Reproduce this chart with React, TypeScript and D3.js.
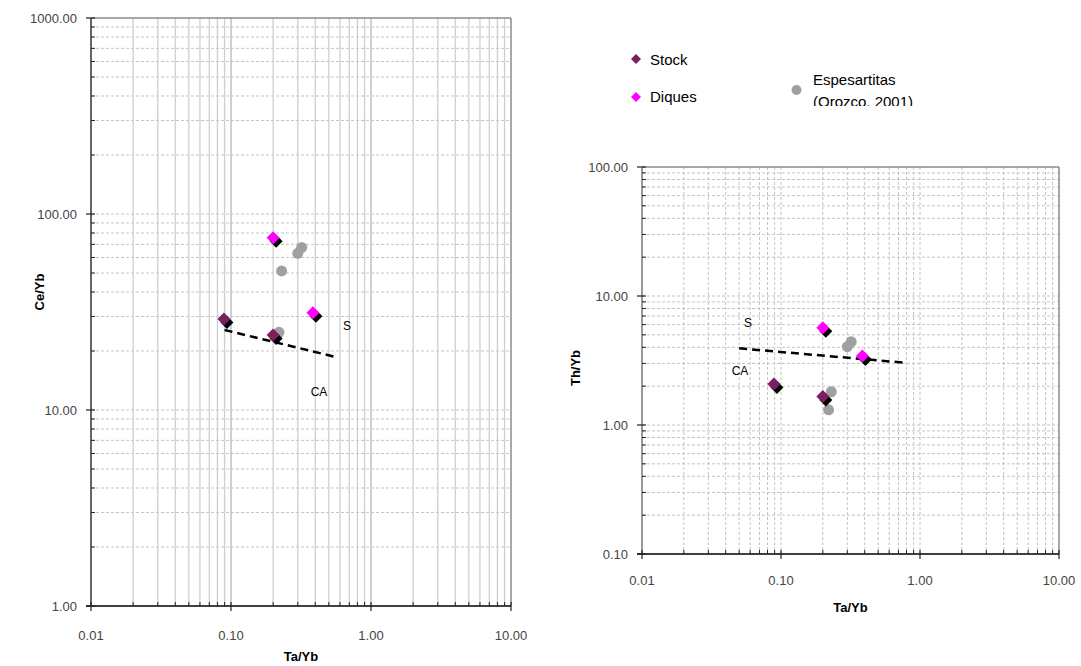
import React from 'react';
import * as d3 from 'd3';

const stockTaYb = [0.089, 0.2];
const stockCeYb = [29.1, 24.1];
const stockThYb = [2.08, 1.66];
const diquesTaYb = [0.2, 0.385];
const diquesCeYb = [75.7, 31.3];
const diquesThYb = [5.68, 3.43];
const espTaYb = [0.3, 0.32, 0.23, 0.22];
const espCeYb = [63, 67.5, 51.2, 24.9];
const espThYb = [4.05, 4.42, 1.81, 1.31];
const lineCeTaYb = [0.09, 0.55];
const lineCeYb = [25.6, 18.7];
const lineThTaYb = [0.05, 0.8];
const lineThYb = [3.93, 3.03];
const xTicks = [0.01, 0.1, 1, 10];
const ceTicks = [1, 10, 100, 1000];
const thTicks = [0.1, 1, 10, 100];

const STOCK = '#7b1f62';
const DIQUES = '#ff00ff';
const ESP = '#a0a0a0';
const FONT = '"Liberation Sans", Arial, sans-serif';

function minors(lo: number, hi: number) {
  const out: number[] = [];
  for (let d = lo; d < hi * 0.999; d *= 10) {
    for (let k = 2; k <= 9; k++) out.push(d * k);
  }
  return out;
}

function diamond(cx: number, cy: number, r: number) {
  return `M${cx},${cy - r}L${cx + r},${cy}L${cx},${cy + r}L${cx - r},${cy}Z`;
}

type PanelProps = {
  x0: number; x1: number; yTop: number; yBot: number;
  yTicks: number[]; yVals: { stock: number[]; diques: number[]; esp: number[]; line: number[] };
  lineX: number[]; solidV: boolean; yTitle: string; yTitleX: number; yTitleY: number;
  xLabelY: number; xTitleY: number; labelS: [number, number]; labelCA: [number, number];
  leftAxisColor: string;
};

function Panel(p: PanelProps) {
  const x = d3.scaleLog().domain([0.01, 10]).range([p.x0, p.x1]);
  const y = d3.scaleLog().domain([p.yTicks[0], p.yTicks[p.yTicks.length - 1]]).range([p.yBot, p.yTop]);
  const xm = minors(0.01, 10);
  const ym = minors(p.yTicks[0], p.yTicks[p.yTicks.length - 1]);
  const line = d3.line<number>().x((_, i) => x(p.lineX[i])).y((v) => y(v));
  const marker = (tx: number[], ty: number[], color: string, key: string) =>
    tx.map((v, i) => (
      <g key={key + i}>
        <path d={diamond(x(v) + 3, y(ty[i]) + 3.5, 6.5)} fill="#000" />
        <path d={diamond(x(v), y(ty[i]), 6.5)} fill={color} />
      </g>
    ));
  return (
    <g>
      {ym.map((v, i) => (
        <line key={'hy' + i} x1={p.x0} x2={p.x1} y1={y(v)} y2={y(v)} stroke="#c4c4c4" strokeDasharray="3,2" />
      ))}
      {xm.map((v, i) => (
        <line key={'vx' + i} x1={x(v)} x2={x(v)} y1={p.yTop} y2={p.yBot} stroke={p.solidV ? '#cfcfcf' : '#c4c4c4'}
          strokeWidth={p.solidV ? 1.3 : 1} strokeDasharray={p.solidV ? undefined : '3,2'} />
      ))}
      {xTicks.slice(1, -1).map((v, i) => (
        <line key={'vM' + i} x1={x(v)} x2={x(v)} y1={p.yTop} y2={p.yBot} stroke={p.solidV ? '#c0c0c0' : '#c4c4c4'}
          strokeWidth={p.solidV ? 1.5 : 1} strokeDasharray={p.solidV ? undefined : '3,2'} />
      ))}
      {p.yTicks.slice(1, -1).map((v, i) => (
        <line key={'hM' + i} x1={p.x0} x2={p.x1} y1={y(v)} y2={y(v)} stroke="#c4c4c4" strokeDasharray="3,2" />
      ))}
      <line x1={p.x0} x2={p.x1} y1={p.yTop} y2={p.yTop} stroke="#8a8a8a" strokeWidth={1.5} />
      <line x1={p.x1} x2={p.x1} y1={p.yTop} y2={p.yBot} stroke="#8a8a8a" strokeWidth={1.5} />
      <line x1={p.x0} x2={p.x0} y1={p.yTop} y2={p.yBot} stroke={p.leftAxisColor} strokeWidth={1.5} />
      <line x1={p.x0 - 5} x2={p.x1} y1={p.yBot} y2={p.yBot} stroke="#000" strokeWidth={1.5} />
      {ym.map((v, i) => (
        <line key={'ty' + i} x1={p.x0} x2={p.x0 + 4} y1={y(v)} y2={y(v)} stroke="#222" />
      ))}
      {p.yTicks.map((v, i) => (
        <g key={'tY' + i}>
          <line x1={p.x0 - 5} x2={p.x0 + 4} y1={y(v)} y2={y(v)} stroke="#222" strokeWidth={1.2} />
          <text x={p.x0 - 14} y={y(v) + 4.5} textAnchor="end" fontSize={13} fill="#444" fontFamily={FONT}>
            {v.toFixed(2)}
          </text>
        </g>
      ))}
      {xm.map((v, i) => (
        <line key={'tx' + i} x1={x(v)} x2={x(v)} y1={p.yBot - 4} y2={p.yBot} stroke="#222" />
      ))}
      {xTicks.map((v, i) => (
        <g key={'tX' + i}>
          <line x1={x(v)} x2={x(v)} y1={p.yBot - 4} y2={p.yBot + 5} stroke="#222" strokeWidth={1.2} />
          <text x={x(v)} y={p.xLabelY} textAnchor="middle" fontSize={13} fill="#444" fontFamily={FONT}>
            {v.toFixed(2)}
          </text>
        </g>
      ))}
      <text x={(p.x0 + p.x1) / 2} y={p.xTitleY} textAnchor="middle" fontSize={13} fontWeight="bold" fontFamily={FONT}>
        Ta/Yb
      </text>
      <text transform={`translate(${p.yTitleX},${p.yTitleY}) rotate(-90)`} textAnchor="middle"
        fontSize={13} fontWeight="bold" fontFamily={FONT}>
        {p.yTitle}
      </text>
      <path d={line(p.yVals.line) || ''} fill="none" stroke="#000" strokeWidth={2.5} strokeDasharray="8,5" />
      <text x={p.labelS[0]} y={p.labelS[1]} textAnchor="middle" fontSize={12} fontFamily={FONT}>S</text>
      <text x={p.labelCA[0]} y={p.labelCA[1]} textAnchor="middle" fontSize={12} fontFamily={FONT}>CA</text>
      {espTaYb.map((v, i) => (
        <circle key={'e' + i} cx={x(v)} cy={y(p.yVals.esp[i])} r={5.5} fill={ESP} />
      ))}
      {marker(stockTaYb, p.yVals.stock, STOCK, 's')}
      {marker(diquesTaYb, p.yVals.diques, DIQUES, 'd')}
    </g>
  );
}

export default function App() {
  return (
    <svg width={1081} height={666} style={{ position: 'absolute', left: 0, top: 0, background: '#fff' }}>
      <rect width={1081} height={666} fill="#fff" />
      <defs>
        <clipPath id="legclip">
          <rect x={600} y={40} width={400} height={66} />
        </clipPath>
      </defs>
      <Panel x0={91} x1={511} yTop={18} yBot={606} yTicks={ceTicks}
        yVals={{ stock: stockCeYb, diques: diquesCeYb, esp: espCeYb, line: lineCeYb }}
        lineX={lineCeTaYb} solidV={true} yTitle="Ce/Yb" yTitleX={44} yTitleY={292} xLabelY={640} xTitleY={661}
        labelS={[347, 330]} labelCA={[319, 396]} leftAxisColor="#333" />
      <Panel x0={642} x1={1059} yTop={167} yBot={554} yTicks={thTicks}
        yVals={{ stock: stockThYb, diques: diquesThYb, esp: espThYb, line: lineThYb }}
        lineX={lineThTaYb} solidV={false} yTitle="Th/Yb" yTitleX={580} yTitleY={368} xLabelY={585} xTitleY={612}
        labelS={[748, 327]} labelCA={[740, 375]} leftAxisColor="#777" />
      <path d={diamond(636, 59, 5)} fill={STOCK} />
      <text x={650} y={65} fontSize={15} fontFamily={FONT}>Stock</text>
      <path d={diamond(636, 97, 5)} fill={DIQUES} />
      <text x={650} y={102} fontSize={15} fontFamily={FONT}>Diques</text>
      <circle cx={796.5} cy={90} r={5} fill={ESP} />
      <g clipPath="url(#legclip)">
        <text x={813} y={85} fontSize={15} fontFamily={FONT}>Espesartitas</text>
        <text x={813} y={107} fontSize={15} fontFamily={FONT}>(Orozco. 2001)</text>
      </g>
    </svg>
  );
}
